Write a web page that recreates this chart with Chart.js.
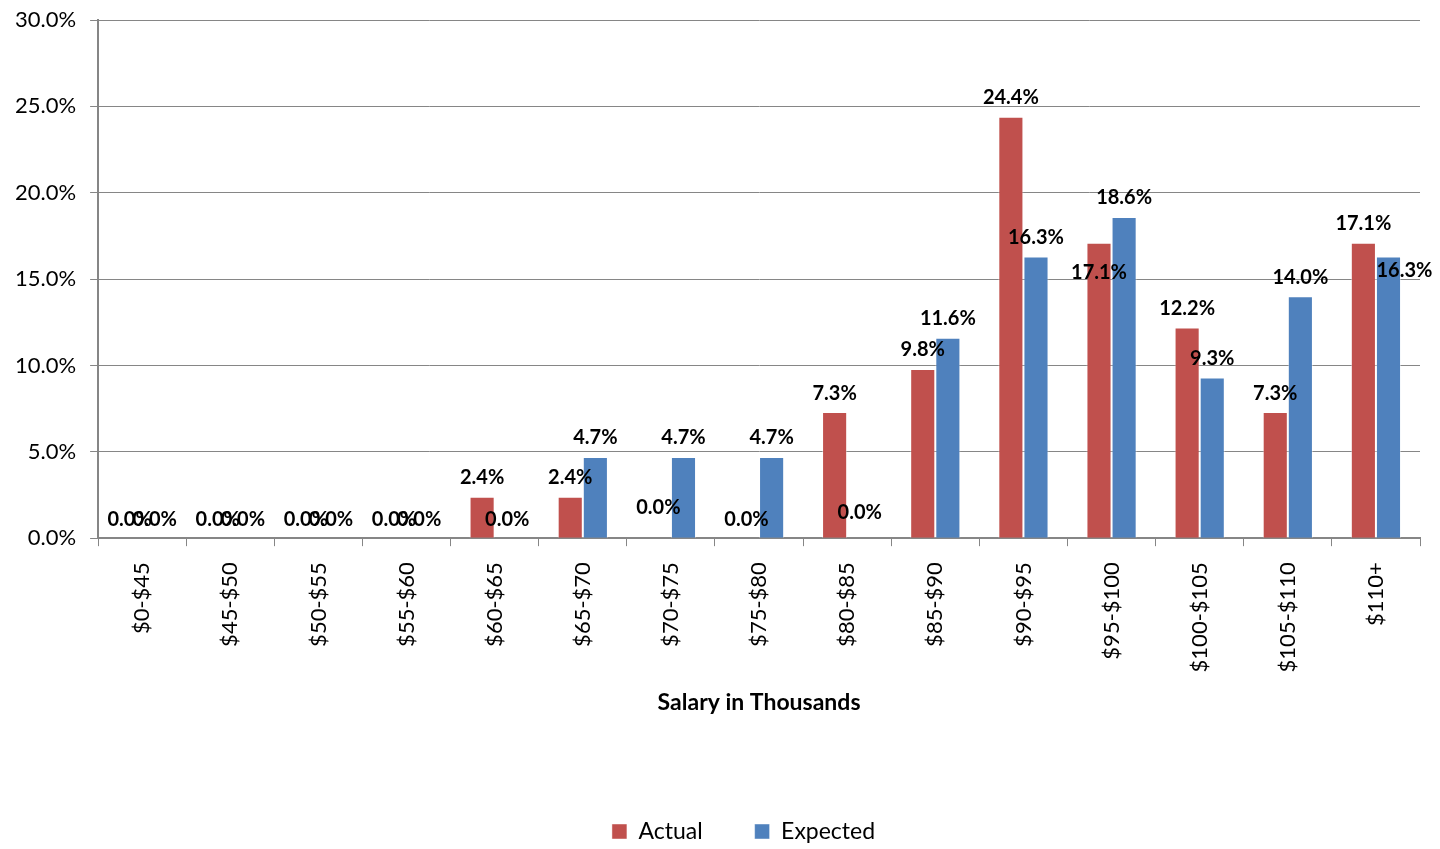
<!DOCTYPE html>
<html>
<head>
<meta charset="utf-8">
<script src="https://cdn.jsdelivr.net/npm/chart.js@4.4.0/dist/chart.umd.min.js"></script>
<style>
  body { margin: 0; background: #fff; }
  #wrap { width: 1440px; height: 849px; position: relative; }
</style>
</head>
<body>
<div id="wrap"><canvas id="myChart"></canvas></div>
<script>
// salary buckets and share of people in each (percent)
const categories = ['$0-$45', '$45-$50', '$50-$55', '$55-$60', '$60-$65', '$65-$70', '$70-$75',
    '$75-$80', '$80-$85', '$85-$90', '$90-$95', '$95-$100', '$100-$105', '$105-$110', '$110+'];
const actual   = [0, 0, 0, 0, 2.4, 2.4, 0, 0, 7.3, 9.8, 24.4, 17.1, 12.2, 7.3, 17.1];
const expected = [0, 0, 0, 0, 0, 4.7, 4.7, 4.7, 0, 11.6, 16.3, 18.6, 9.3, 14.0, 16.3];
const yTicks   = [0, 5, 10, 15, 20, 25, 30];

const FONT = 'Lato, "Open Sans", sans-serif';

// draws value labels above each bar, Excel style
const barLabels = {
    id: 'barLabels',
    afterDatasetsDraw(chart, args, opts) {
        const ctx = chart.ctx;
        ctx.save();
        ctx.font = 'bold 20px ' + FONT;
        ctx.fillStyle = '#000';
        ctx.textAlign = 'center';
        ctx.textBaseline = 'middle';
        chart.data.datasets.forEach((ds, di) => {
            const meta = chart.getDatasetMeta(di);
            meta.data.forEach((bar, i) => {
                const nudge = opts.nudge[di + ':' + i] || [0, 0];
                ctx.fillText(ds.data[i].toFixed(1) + '%', bar.x + nudge[0], bar.y - 19 + nudge[1]);
            });
        });
        ctx.restore();
    }
};

// legend sits a bit right of centre in the original
const legendShift = {
    id: 'legendShift',
    afterLayout(chart, args, opts) {
        chart.legend.left += opts.dx;
        chart.legend.right += opts.dx;
    }
};

const ctx = document.getElementById('myChart').getContext('2d');
const myChart = new Chart(ctx, {
    type: 'bar',
    data: {
        labels: categories,
        datasets: [{
            label: 'Actual',
            data: actual,
            backgroundColor: '#C0504D',
            borderColor: 'rgba(255,255,255,0.45)',
            borderWidth: 1,
            categoryPercentage: 0.57,
            barPercentage: 1
        }, {
            label: 'Expected',
            data: expected,
            backgroundColor: '#4F81BD',
            borderColor: 'rgba(255,255,255,0.45)',
            borderWidth: 1,
            categoryPercentage: 0.57,
            barPercentage: 1
        }]
    },
    options: {
        responsive: true,
        maintainAspectRatio: false,
        animation: false,
        layout: { padding: { top: 0, right: 20, bottom: -4, left: 1 } },
        plugins: {
            tooltip: { enabled: false },
            legend: {
                position: 'bottom',
                labels: {
                    boxWidth: 15,
                    boxHeight: 15,
                    padding: 52,
                    color: '#000',
                    font: { family: FONT, size: 23 }
                }
            },
            legendShift: { dx: 33 },
            barLabels: {
                nudge: { '0:6': [0, -12], '1:8': [0, -7], '0:11': [0, 49], '1:14': [16, 33] }
            }
        },
        scales: {
            x: {
                grid: { drawOnChartArea: false, drawTicks: true, tickLength: 8, color: '#868686' },
                border: { color: '#868686', width: 2 },
                ticks: {
                    minRotation: 90,
                    maxRotation: 90,
                    padding: 16,
                    color: '#000',
                    font: { family: FONT, size: 22 }
                },
                title: {
                    display: true,
                    text: 'Salary in Thousands',
                    color: '#000',
                    font: { family: FONT, size: 23, weight: 'bold' },
                    padding: { top: 0, bottom: 52 }
                }
            },
            y: {
                min: 0,
                max: 30,
                afterBuildTicks: (axis) => { axis.ticks = yTicks.map(v => ({ value: v })); },
                afterFit: (axis) => { axis.paddingTop = 20; },
                grid: { color: '#868686', tickLength: 8 },
                border: { color: '#868686', width: 2 },
                ticks: {
                    padding: 14,
                    color: '#000',
                    font: { family: FONT, size: 22 },
                    callback: (v) => v.toFixed(1) + '%'
                }
            }
        }
    },
    plugins: [barLabels, legendShift]
});
</script>
</body>
</html>
